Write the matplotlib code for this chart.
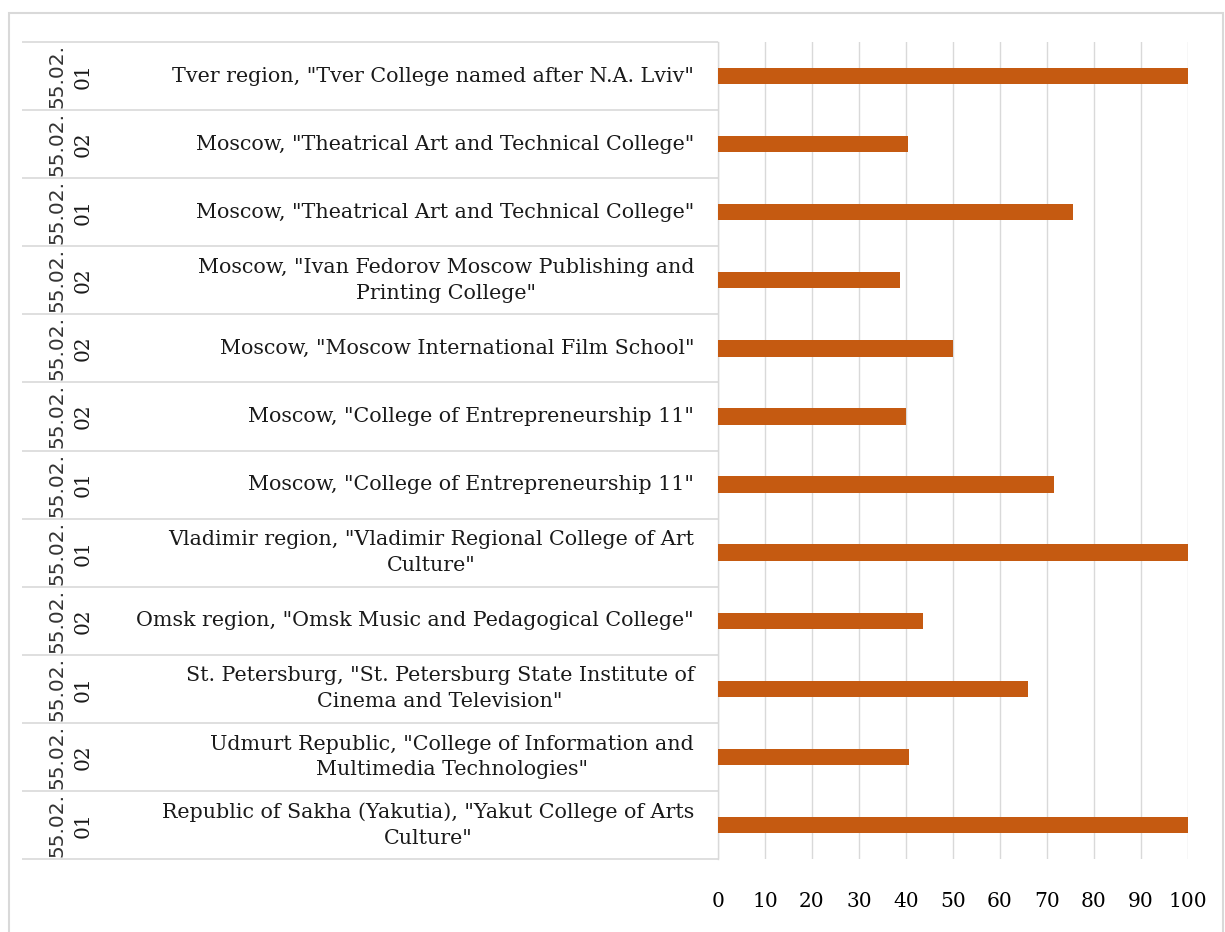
import matplotlib.pyplot as plt
from matplotlib.patches import Rectangle

# ============================================================
# Data (top row first)
# ============================================================
COLLEGES = [
    'Tver region, "Tver College named after N.A. Lviv"',
    'Moscow, "Theatrical Art and Technical College"',
    'Moscow, "Theatrical Art and Technical College"',
    'Moscow, "Ivan Fedorov Moscow Publishing and\nPrinting College"',
    'Moscow, "Moscow International Film School"',
    'Moscow, "College of Entrepreneurship 11"',
    'Moscow, "College of Entrepreneurship 11"',
    'Vladimir region, "Vladimir Regional College of Art\nCulture"',
    'Omsk region, "Omsk Music and Pedagogical College"',
    'St. Petersburg, "St. Petersburg State Institute of\nCinema and Television"',
    'Udmurt Republic, "College of Information and\nMultimedia Technologies"',
    'Republic of Sakha (Yakutia), "Yakut College of Arts\nCulture"',
]

CODES = ["55.02.01", "55.02.02", "55.02.01", "55.02.02", "55.02.02", "55.02.02",
         "55.02.01", "55.02.01", "55.02.02", "55.02.01", "55.02.02", "55.02.01"]

VALUES = [100, 40.5, 75.6, 38.8, 50, 40, 71.4, 100, 43.7, 66, 40.7, 100]

X_TICKS = list(range(0, 101, 10))

BAR_COLOR = "#C55A11"
GRID_COLOR = "#D9D9D9"
SERIF = "DejaVu Serif"

# ============================================================
# Figure / axes
# ============================================================
W, H = 1225, 932
fig = plt.figure(figsize=(W / 100, H / 100), dpi=100)

ax_left, ax_right = 718, 1188
ax_top, ax_bottom = 42, 859
ax = fig.add_axes([ax_left / W, 1 - ax_bottom / H,
                   (ax_right - ax_left) / W, (ax_bottom - ax_top) / H])

n = len(VALUES)
ypos = list(range(n))
ax.barh(ypos, VALUES, height=0.24, color=BAR_COLOR, zorder=3)

ax.set_xlim(0, 100)
ax.set_ylim(n - 0.5, -0.5)
ax.set_xticks(X_TICKS)
ax.set_xticklabels([str(t) for t in X_TICKS], fontsize=14.5, family=SERIF)
ax.set_yticks([])
ax.tick_params(axis="x", length=0, pad=24)
ax.grid(axis="x", color=GRID_COLOR, linewidth=1.0, zorder=0)
for s in ["top", "right", "bottom"]:
    ax.spines[s].set_visible(False)
ax.spines["left"].set_color(GRID_COLOR)
ax.spines["left"].set_linewidth(1.0)

# ============================================================
# Category table on the left
# ============================================================
px = ax_right - ax_left
x_table = (22 - ax_left) / px
tr = ax.get_yaxis_transform()

bounds = [i - 0.5 for i in range(n + 1)]
ax.hlines(bounds, x_table, 0, transform=tr, colors=GRID_COLOR,
          linewidth=1.2, clip_on=False)

x_label = (694 - ax_left) / px
x_code1 = (57 - ax_left) / px
x_code2 = (83 - ax_left) / px

for i, (name, code) in enumerate(zip(COLLEGES, CODES)):
    ax.text(x_label, i, name, transform=tr, ha="right", va="center",
            multialignment="center", fontsize=14.9, family=SERIF,
            linespacing=1.45, color="#1a1a1a")
    ax.text(x_code1, i, code[:6], transform=tr, rotation=90, ha="center",
            va="center", fontsize=14.5, color="#333333")
    ax.text(x_code2, i, code[6:], transform=tr, rotation=90, ha="center",
            va="center", fontsize=14.5, family=SERIF, color="#1a1a1a")

# outer chart border
fig.patches.append(Rectangle((9 / W, -0.01), (1223 - 9) / W, 1 - 13 / H + 0.01,
                             transform=fig.transFigure, fill=False,
                             edgecolor="#D9D9D9", linewidth=1.5))

fig.savefig("out.png", dpi=100)
